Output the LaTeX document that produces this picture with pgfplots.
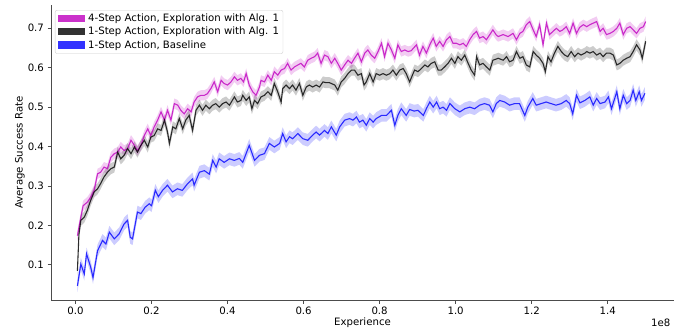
\documentclass[border=0pt]{standalone}
\usepackage{fontspec}
\setmainfont{DejaVu Sans}
\usepackage{pgfplots}
\usepackage{pgfplotstable}
\pgfplotsset{compat=1.18}
\usepgfplotslibrary{fillbetween}
\definecolor{magline}{RGB}{191,0,191}
\definecolor{blkline}{RGB}{0,0,0}
\definecolor{bluline}{RGB}{0,0,255}

\pgfplotstableread{
x y
0.005 0.174
0.014 0.221
0.020 0.250
0.031 0.259
0.040 0.272
0.049 0.289
0.058 0.331
0.066 0.335
0.075 0.348
0.084 0.344
0.093 0.373
0.102 0.382
0.111 0.386
0.119 0.399
0.128 0.390
0.137 0.395
0.146 0.416
0.155 0.403
0.163 0.390
0.172 0.403
0.181 0.428
0.190 0.445
0.198 0.428
0.207 0.450
0.216 0.467
0.225 0.488
0.234 0.467
0.242 0.492
0.251 0.467
0.260 0.509
0.269 0.505
0.277 0.492
0.286 0.483
0.295 0.496
0.304 0.488
0.312 0.513
0.321 0.526
0.330 0.530
0.339 0.530
0.347 0.534
0.356 0.547
0.365 0.564
0.374 0.539
0.383 0.568
0.391 0.560
0.400 0.556
0.409 0.564
0.418 0.577
0.426 0.568
0.435 0.573
0.442 0.564
0.449 0.585
0.457 0.556
0.466 0.539
0.475 0.530
0.484 0.551
0.488 0.568
0.497 0.564
0.506 0.581
0.515 0.568
0.523 0.590
0.532 0.581
0.541 0.594
0.550 0.598
0.558 0.611
0.567 0.594
0.576 0.602
0.585 0.607
0.593 0.611
0.602 0.602
0.611 0.619
0.620 0.624
0.629 0.628
0.637 0.637
0.646 0.611
0.655 0.632
0.664 0.628
0.673 0.611
0.682 0.624
0.690 0.611
0.699 0.594
0.708 0.607
0.717 0.619
0.726 0.611
0.734 0.624
0.743 0.637
0.752 0.615
0.761 0.637
0.769 0.645
0.778 0.632
0.787 0.624
0.796 0.641
0.805 0.662
0.813 0.628
0.822 0.662
0.831 0.645
0.840 0.624
0.848 0.658
0.857 0.641
0.866 0.645
0.875 0.641
0.883 0.643
0.897 0.658
0.905 0.632
0.914 0.654
0.923 0.637
0.932 0.658
0.941 0.675
0.949 0.654
0.958 0.667
0.967 0.654
0.976 0.671
0.985 0.679
0.993 0.662
1.002 0.662
1.011 0.658
1.020 0.662
1.028 0.654
1.037 0.671
1.046 0.684
1.055 0.692
1.063 0.675
1.072 0.679
1.081 0.671
1.090 0.684
1.098 0.696
1.107 0.683
1.112 0.679
1.125 0.684
1.138 0.679
1.151 0.687
1.160 0.671
1.169 0.687
1.177 0.692
1.186 0.709
1.195 0.717
1.204 0.696
1.212 0.679
1.221 0.709
1.230 0.658
1.239 0.713
1.247 0.684
1.256 0.692
1.265 0.700
1.274 0.692
1.282 0.696
1.291 0.704
1.300 0.687
1.309 0.713
1.318 0.687
1.326 0.702
1.336 0.709
1.345 0.704
1.353 0.709
1.362 0.713
1.371 0.717
1.380 0.692
1.388 0.700
1.397 0.684
1.406 0.687
1.415 0.692
1.424 0.700
1.432 0.713
1.441 0.684
1.450 0.700
1.459 0.704
1.467 0.696
1.476 0.687
1.485 0.700
1.494 0.704
1.500 0.717
}\magdata

\pgfplotstableread{
x y
0.005 0.085
0.009 0.178
0.014 0.213
0.023 0.221
0.031 0.238
0.040 0.264
0.049 0.285
0.058 0.293
0.066 0.306
0.075 0.323
0.084 0.335
0.093 0.344
0.102 0.348
0.111 0.386
0.119 0.369
0.128 0.378
0.137 0.395
0.146 0.382
0.155 0.399
0.163 0.386
0.172 0.403
0.181 0.416
0.190 0.399
0.198 0.424
0.207 0.428
0.216 0.445
0.225 0.441
0.234 0.467
0.242 0.437
0.247 0.408
0.256 0.450
0.264 0.445
0.273 0.471
0.282 0.445
0.290 0.467
0.299 0.479
0.308 0.441
0.317 0.492
0.326 0.505
0.334 0.492
0.343 0.505
0.352 0.496
0.361 0.505
0.369 0.509
0.378 0.500
0.387 0.509
0.396 0.513
0.405 0.505
0.418 0.526
0.426 0.513
0.435 0.517
0.440 0.530
0.449 0.517
0.457 0.526
0.464 0.496
0.471 0.517
0.479 0.509
0.488 0.526
0.497 0.530
0.506 0.539
0.515 0.530
0.523 0.560
0.532 0.539
0.541 0.513
0.545 0.547
0.554 0.556
0.563 0.547
0.571 0.556
0.580 0.543
0.589 0.560
0.598 0.530
0.607 0.551
0.615 0.556
0.624 0.551
0.633 0.556
0.642 0.551
0.651 0.564
0.659 0.562
0.668 0.562
0.673 0.560
0.682 0.556
0.690 0.543
0.699 0.564
0.708 0.573
0.717 0.585
0.726 0.594
0.734 0.594
0.743 0.581
0.752 0.585
0.759 0.556
0.765 0.564
0.774 0.585
0.783 0.564
0.791 0.585
0.800 0.581
0.809 0.585
0.818 0.581
0.827 0.585
0.835 0.594
0.844 0.581
0.853 0.594
0.862 0.598
0.870 0.585
0.879 0.564
0.888 0.585
0.892 0.594
0.901 0.590
0.910 0.598
0.919 0.607
0.927 0.602
0.936 0.611
0.945 0.615
0.954 0.594
0.962 0.594
0.971 0.602
0.980 0.611
0.989 0.624
0.998 0.611
1.006 0.628
1.015 0.619
1.024 0.632
1.033 0.611
1.041 0.594
1.050 0.581
1.055 0.628
1.063 0.607
1.072 0.611
1.081 0.602
1.090 0.594
1.098 0.619
1.107 0.622
1.112 0.624
1.125 0.619
1.134 0.628
1.142 0.615
1.151 0.619
1.160 0.641
1.169 0.624
1.177 0.628
1.186 0.607
1.195 0.602
1.204 0.641
1.212 0.632
1.221 0.624
1.230 0.611
1.236 0.590
1.243 0.628
1.251 0.615
1.260 0.637
1.269 0.654
1.278 0.641
1.287 0.632
1.295 0.628
1.304 0.641
1.313 0.628
1.322 0.637
1.330 0.632
1.340 0.637
1.345 0.641
1.353 0.637
1.362 0.641
1.371 0.632
1.380 0.637
1.388 0.628
1.397 0.637
1.406 0.637
1.415 0.632
1.424 0.607
1.432 0.611
1.441 0.619
1.450 0.624
1.459 0.628
1.467 0.641
1.476 0.658
1.485 0.645
1.491 0.624
1.500 0.667
}\blkdata

\pgfplotstableread{
x y
0.005 0.047
0.014 0.102
0.023 0.077
0.029 0.128
0.040 0.094
0.046 0.068
0.058 0.136
0.071 0.162
0.080 0.153
0.089 0.183
0.102 0.166
0.115 0.179
0.128 0.204
0.137 0.213
0.144 0.170
0.150 0.166
0.163 0.234
0.172 0.230
0.183 0.246
0.194 0.255
0.200 0.250
0.210 0.289
0.218 0.273
0.229 0.289
0.242 0.302
0.255 0.285
0.268 0.293
0.281 0.289
0.295 0.306
0.308 0.318
0.312 0.302
0.326 0.335
0.339 0.339
0.352 0.330
0.361 0.365
0.370 0.348
0.378 0.369
0.391 0.360
0.405 0.369
0.418 0.365
0.431 0.370
0.440 0.360
0.457 0.403
0.471 0.365
0.484 0.378
0.497 0.382
0.510 0.408
0.523 0.399
0.537 0.408
0.545 0.433
0.554 0.412
0.563 0.425
0.571 0.420
0.585 0.433
0.598 0.420
0.611 0.416
0.624 0.429
0.633 0.437
0.642 0.429
0.655 0.441
0.664 0.433
0.673 0.450
0.686 0.429
0.695 0.450
0.708 0.467
0.721 0.471
0.730 0.467
0.739 0.475
0.747 0.462
0.756 0.467
0.765 0.454
0.774 0.471
0.783 0.462
0.791 0.471
0.805 0.479
0.818 0.479
0.831 0.492
0.840 0.454
0.848 0.479
0.857 0.496
0.870 0.479
0.879 0.494
0.891 0.490
0.901 0.492
0.915 0.479
0.923 0.496
0.932 0.513
0.941 0.500
0.950 0.513
0.958 0.496
0.967 0.500
0.976 0.492
0.985 0.509
0.998 0.496
1.011 0.488
1.024 0.496
1.037 0.500
1.050 0.496
1.063 0.505
1.076 0.509
1.089 0.505
1.098 0.488
1.107 0.509
1.116 0.517
1.129 0.513
1.142 0.505
1.155 0.509
1.168 0.509
1.182 0.479
1.190 0.500
1.203 0.522
1.212 0.505
1.225 0.509
1.238 0.513
1.251 0.509
1.264 0.505
1.278 0.509
1.291 0.517
1.300 0.509
1.308 0.483
1.318 0.530
1.327 0.511
1.340 0.517
1.353 0.526
1.362 0.505
1.371 0.522
1.380 0.509
1.393 0.513
1.402 0.526
1.410 0.496
1.424 0.539
1.432 0.496
1.441 0.530
1.450 0.509
1.459 0.517
1.467 0.543
1.474 0.517
1.483 0.539
1.489 0.517
1.498 0.535
}\bludata

\begin{document}
\fontsize{10.2}{12}\selectfont
\begin{tikzpicture}
\begin{axis}[
  name=ax,
  at={(0,0)}, anchor=south west,
  scale only axis, width=623bp, height=295bp,
  xmin=-0.0645, xmax=1.5745, ymin=0.011, ymax=0.759,
  axis x line*=bottom, axis y line*=left,
  axis line style={black!70, line width=0.8bp},
  tick style={black!70, line width=0.8bp},
  tick align=outside, major tick length=3.5bp,
  xtick={0,0.2,...,1.41}, ytick={0.1,0.2,...,0.71},
  /pgf/number format/assume math mode=true,
  xticklabel style={/pgf/number format/.cd, fixed, fixed zerofill, precision=1},
  yticklabel style={/pgf/number format/.cd, fixed, fixed zerofill, precision=1},
  scaled x ticks=false, scaled y ticks=false,
  xlabel={Experience},
  xlabel style={at={(axis description cs:0.5,-0.077)}, anchor=center},
  ylabel={Average Success Rate},
  ylabel style={at={(axis description cs:-0.0498,0.5)}, anchor=center},
  legend cell align=left,
  legend style={at={(axis description cs:0.0064,0.983)}, anchor=north west,
    draw=black!20, rounded corners=2pt, fill=white, fill opacity=0.8, text opacity=1,
    inner xsep=3bp, inner ysep=3.5bp, row sep=2.8bp,
    nodes={inner xsep=1bp, inner ysep=0.5bp},
    /tikz/every odd column/.append style={column sep=2bp}},
  legend image code/.code={\path[sharp corners, #1, draw=none, fill opacity=0.8] (0bp,-3.6bp) rectangle (27bp,3.6bp);},
]
\addlegendimage{fill=magline}
\addlegendentry{4-Step Action, Exploration with Alg. 1}
\addlegendimage{fill=blkline}
\addlegendentry{1-Step Action, Exploration with Alg. 1}
\addlegendimage{fill=bluline}
\addlegendentry{1-Step Action, Baseline}

% magenta
\addplot[name path=mU, draw=none, forget plot] table[x=x, y expr=\thisrow{y}+0.013] {\magdata};
\addplot[name path=mL, draw=none, forget plot] table[x=x, y expr=\thisrow{y}-0.013] {\magdata};
\addplot[magline, fill opacity=0.2, forget plot] fill between[of=mU and mL];
\addplot[magline, opacity=0.8, line width=1.1bp, forget plot] table[x=x, y=y] {\magdata};
% black
\addplot[name path=kU, draw=none, forget plot] table[x=x, y expr=\thisrow{y}+0.014] {\blkdata};
\addplot[name path=kL, draw=none, forget plot] table[x=x, y expr=\thisrow{y}-0.014] {\blkdata};
\addplot[blkline, fill opacity=0.2, forget plot] fill between[of=kU and kL];
\addplot[blkline, opacity=0.8, line width=1.1bp, forget plot] table[x=x, y=y] {\blkdata};
% blue
\addplot[name path=bU, draw=none, forget plot] table[x=x, y expr=\thisrow{y}+0.016] {\bludata};
\addplot[name path=bL, draw=none, forget plot] table[x=x, y expr=\thisrow{y}-0.016] {\bludata};
\addplot[bluline, fill opacity=0.2, forget plot] fill between[of=bU and bL];
\addplot[bluline, opacity=0.8, line width=1.1bp, forget plot] table[x=x, y=y] {\bludata};
\end{axis}
\node[anchor=east, yshift=-22.7bp] at (ax.south east) {1e8};
\pgfresetboundingbox
\path[use as bounding box] (-51bp,-30bp) rectangle (633bp,300bp);
\end{tikzpicture}
\end{document}
